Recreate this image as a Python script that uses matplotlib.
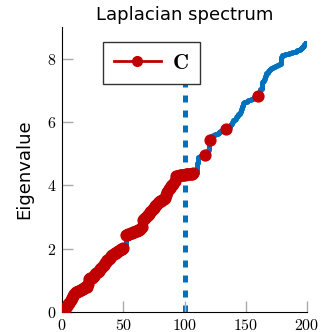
import numpy as np
import matplotlib
matplotlib.use("Agg")
import matplotlib.pyplot as plt
from matplotlib.lines import Line2D

# Sorted Laplacian eigenvalues (200)
eigenvalues = [
    0.00, 0.05, 0.10, 0.15, 0.20, 0.25, 0.30, 0.38, 0.45, 0.52,
    0.58, 0.62, 0.64, 0.66, 0.68, 0.70, 0.72, 0.74, 0.76, 0.78,
    0.80, 0.90, 1.03, 1.06, 1.09, 1.12, 1.15, 1.19, 1.22, 1.26,
    1.30, 1.35, 1.40, 1.45, 1.50, 1.54, 1.58, 1.63, 1.67, 1.72,
    1.76, 1.79, 1.82, 1.85, 1.87, 1.90, 1.93, 1.96, 1.98, 2.00,
    2.01, 2.03, 2.42, 2.44, 2.45, 2.46, 2.48, 2.50, 2.52, 2.54,
    2.55, 2.56, 2.58, 2.60, 2.62, 2.70, 2.90, 2.95, 2.98, 3.02,
    3.06, 3.10, 3.15, 3.20, 3.26, 3.30, 3.34, 3.38, 3.43, 3.47,
    3.50, 3.52, 3.54, 3.56, 3.60, 3.70, 3.80, 3.88, 3.93, 3.97,
    4.00, 4.05, 4.15, 4.28, 4.30, 4.31, 4.32, 4.33, 4.33, 4.34,
    4.34, 4.35, 4.35, 4.36, 4.36, 4.37, 4.37, 4.38, 4.38, 4.40,
    4.70, 4.88, 4.90, 4.91, 4.92, 4.93, 4.94, 4.95, 4.97, 5.10,
    5.35, 5.42, 5.55, 5.58, 5.60, 5.62, 5.63, 5.65, 5.67, 5.70,
    5.72, 5.74, 5.75, 5.76, 5.78, 5.80, 5.85, 5.90, 5.95, 6.00,
    6.05, 6.10, 6.15, 6.20, 6.25, 6.30, 6.40, 6.50, 6.60, 6.62,
    6.64, 6.66, 6.68, 6.70, 6.72, 6.74, 6.76, 6.78, 6.80, 6.80,
    6.82, 6.85, 7.05, 7.25, 7.30, 7.35, 7.45, 7.55, 7.60, 7.65,
    7.68, 7.70, 7.72, 7.74, 7.76, 7.78, 7.80, 7.82, 7.84, 8.05,
    8.10, 8.12, 8.14, 8.15, 8.16, 8.17, 8.18, 8.19, 8.20, 8.21,
    8.22, 8.24, 8.26, 8.28, 8.30, 8.32, 8.36, 8.40, 8.45, 8.50,
]
# indices of eigenvalues belonging to cluster C
c_indices = list(range(0, 51)) + list(range(52, 108)) + [117, 121, 134, 160]
split_at = 100
x_ticks = [0, 50, 100, 150, 200]
y_ticks = [0, 2, 4, 6, 8]

blue = "#0072BD"
red = "#C00000"

plt.rcParams["mathtext.fontset"] = "cm"

fig = plt.figure(figsize=(3.22, 3.32), dpi=100)
ax = fig.add_axes([0.193, 0.060, 0.760, 0.859])

idx = np.arange(len(eigenvalues))
vals = np.array(eigenvalues)
ax.plot(idx, vals, color=blue, lw=3.6, drawstyle="steps-post", zorder=2)
ci = np.array(c_indices)
ax.plot(ci, vals[ci], linestyle="none", marker="o", ms=7.8,
        color=red, mec=red, zorder=3)
ax.plot([split_at, split_at], [0, max(eigenvalues)], color=blue, lw=3.6,
        dashes=(1.4, 1.6), zorder=1)

ax.set_xlim(0, 200)
ax.set_ylim(0, 9)
ax.set_xticks(x_ticks)
ax.set_yticks(y_ticks)
ax.set_xticklabels([f"${t}$" for t in x_ticks], fontsize=11.5)
ax.set_yticklabels([f"${t}$" for t in y_ticks], fontsize=11.5)
ax.tick_params(direction="in", length=8, width=1, color="#aaaaaa", pad=4)
for s in ["top", "right"]:
    ax.spines[s].set_visible(False)
ax.set_title("Laplacian spectrum", fontsize=13, family="DejaVu Sans", pad=5)
ax.set_ylabel("Eigenvalue", fontsize=13, family="DejaVu Sans", labelpad=10)

handle = Line2D([], [], color=red, lw=2, marker="o", ms=7)
leg = ax.legend([handle], [r"$\mathbf{C}$"], loc="upper left", bbox_to_anchor=(0.167, 0.947),
                prop={"size": 16},
                fancybox=False, framealpha=1, edgecolor="#333333",
                handlelength=2.1, borderpad=0.5, handletextpad=0.5, borderaxespad=0)
leg.get_frame().set_linewidth(1.0)

fig.savefig("out.png", dpi=100)
